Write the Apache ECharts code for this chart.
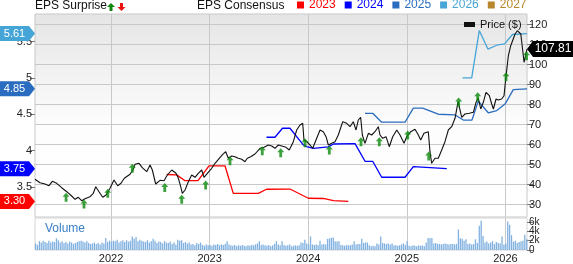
<!DOCTYPE html>
<html><head><meta charset="utf-8">
<script src="https://cdn.jsdelivr.net/npm/echarts@6/dist/echarts.min.js"></script>
<style>html,body{margin:0;padding:0;background:#fff}#c{width:573px;height:264px}</style>
</head><body><div id="c"></div>
<script>
const FONT = 'Liberation Sans, Arial, sans-serif';
const XMIN = 2021.229, XMAX = 2026.219;
const yearTicks = [2022, 2023, 2024, 2025, 2026];
const epsTicks = [3.5, 4, 4.5, 5, 5.5];
const priceTicks = [30, 40, 50, 60, 70, 80, 90, 100, 110, 120];
const volTicksA = [0, 4];
const volTicksB = [2, 6];
const consensusYears = ['2023', '2024', '2025', '2026', '2027'];
const consensusColors = ['#ff0000', '#0000ff', '#2a6cc0', '#45a5d6', '#b8862b'];

const price = [
[2021.229,42.7],[2021.280,41.0],[2021.331,40.35],[2021.371,39.5],[2021.405,41.7],[2021.449,40.7],
[2021.500,38.5],[2021.551,36.5],[2021.601,34.35],[2021.635,32.7],[2021.668,33.7],[2021.703,32.0],
[2021.736,33.0],[2021.787,34.0],[2021.820,35.7],[2021.845,39.0],[2021.878,36.5],[2021.916,33.7],
[2021.949,34.85],[2021.990,38.2],[2022.030,42.35],[2022.068,39.5],[2022.101,40.7],[2022.135,43.2],
[2022.193,45.2],[2022.226,47.7],[2022.243,50.2],[2022.284,50.7],[2022.317,48.5],[2022.362,46.5],
[2022.396,49.85],[2022.419,47.35],[2022.453,40.35],[2022.497,42.2],[2022.538,42.0],[2022.571,44.85],
[2022.616,47.35],[2022.659,45.7],[2022.683,43.2],[2022.707,39.0],[2022.723,35.7],[2022.751,37.35],
[2022.784,41.5],[2022.818,44.85],[2022.852,43.7],[2022.885,45.7],[2022.920,47.35],[2022.943,43.7],
[2022.977,45.7],[2023.021,48.2],[2023.055,50.7],[2023.098,53.2],[2023.133,55.2],[2023.163,56.5],
[2023.190,53.2],[2023.224,54.35],[2023.258,54.0],[2023.291,53.2],[2023.326,52.7],[2023.359,51.5],
[2023.382,53.2],[2023.417,54.0],[2023.460,55.35],[2023.511,58.2],[2023.552,58.7],[2023.595,59.85],
[2023.630,59.35],[2023.663,58.2],[2023.697,59.85],[2023.731,59.35],[2023.775,58.7],[2023.808,57.35],
[2023.849,61.5],[2023.883,67.35],[2023.917,69.85],[2023.944,70.7],[2023.957,62.35],[2023.985,61.5],
[2024.018,59.85],[2024.046,58.2],[2024.079,62.35],[2024.120,67.35],[2024.153,66.5],[2024.181,64.0],
[2024.204,59.85],[2024.238,60.7],[2024.272,61.5],[2024.305,64.85],[2024.350,71.5],[2024.390,70.7],
[2024.424,69.0],[2024.457,71.5],[2024.485,67.35],[2024.508,72.35],[2024.532,73.7],[2024.549,64.85],
[2024.576,60.7],[2024.610,65.7],[2024.644,64.85],[2024.677,66.5],[2024.711,69.0],[2024.728,64.85],
[2024.756,63.2],[2024.789,64.0],[2024.822,59.0],[2024.857,64.0],[2024.898,67.35],[2024.931,64.85],
[2024.972,60.7],[2024.999,64.0],[2025.040,66.5],[2025.083,67.7],[2025.117,64.85],[2025.141,62.35],
[2025.174,65.7],[2025.218,66.5],[2025.235,56.5],[2025.252,50.7],[2025.286,53.2],[2025.319,53.2],
[2025.354,57.35],[2025.387,61.5],[2025.421,67.35],[2025.455,69.0],[2025.489,73.2],[2025.520,81.5],
[2025.535,82.5],[2025.557,73.7],[2025.590,75.35],[2025.634,75.7],[2025.675,76.2],[2025.702,81.2],
[2025.725,83.35],[2025.750,77.85],[2025.776,81.2],[2025.803,86.2],[2025.837,84.5],[2025.861,80.35],
[2025.878,77.85],[2025.905,82.85],[2025.928,82.35],[2025.962,82.85],[2025.986,84.5],[2026.003,92.85],
[2026.030,104.5],[2026.054,109.5],[2026.074,110.35],[2026.098,115.35],[2026.121,117.0],[2026.141,117.35],
[2026.156,115.35],[2026.176,107.0],[2026.189,101.2],[2026.209,102.0],[2026.219,107.81]
];

const eps2023 = [
[2022.565,3.67],[2022.666,3.665],[2022.751,3.585],[2022.882,3.585],[2022.994,3.79],[2023.156,3.79],
[2023.240,3.41],[2023.494,3.41],[2023.577,3.467],[2023.815,3.47],[2024.001,3.343],[2024.153,3.34],
[2024.255,3.31],[2024.407,3.30]
];
const eps2024 = [
[2023.577,4.183],[2023.663,4.183],[2023.739,4.307],[2023.815,4.307],[2023.950,4.077],[2023.985,4.054],
[2024.052,4.03],[2024.204,4.05],[2024.255,4.09],[2024.475,4.095],[2024.576,3.852],[2024.654,3.852],
[2024.745,3.632],[2024.982,3.632],[2025.066,3.778],[2025.405,3.75]
];
const eps2025 = [
[2024.576,4.513],[2024.654,4.513],[2024.745,4.39],[2024.982,4.39],[2025.066,4.583],[2025.161,4.583],
[2025.319,4.50],[2025.489,4.49],[2025.573,4.42],[2025.661,4.42],[2025.725,4.68],[2025.826,4.52],
[2025.912,4.55],[2025.996,4.64],[2026.080,4.838],[2026.219,4.85]
];
const eps2026 = [
[2025.565,5.0],[2025.658,5.0],[2025.735,5.652],[2025.822,5.397],[2025.912,5.45],[2025.991,5.468],
[2026.072,5.598],[2026.219,5.61]
];
const eps2027 = [];

const surprises = [
[2021.544,33.7],[2021.726,30.35],[2021.967,35.7],[2022.216,48.2],[2022.545,38.6],[2022.717,32.7],
[2022.960,39.85],[2023.207,52.0],[2023.534,57.0],[2023.721,56.0],[2023.968,61.0],[2024.214,57.35],
[2024.535,61.5],[2024.721,61.5],[2025.009,64.85],[2025.222,54.35],[2025.526,81.35],[2025.719,84.0],
[2026.006,94.0],[2026.214,104.5]
];

const volStart = 2021.235;
const volume = [
1.4,1.1,1.9,1.6,2.0,1.7,1.5,2.0,1.6,1.8,
1.7,2.5,2.1,1.6,1.9,1.5,1.7,1.4,1.8,1.6,
1.3,1.5,1.7,1.9,2.0,1.8,1.6,1.9,1.5,1.3,
1.4,1.6,1.3,1.5,1.2,1.6,1.4,2.6,1.7,2.0,
1.8,2.0,1.9,2.2,1.6,1.9,2.1,1.7,2.1,1.8,
2.0,2.9,2.4,2.8,1.9,2.2,2.0,1.8,1.7,2.1,
1.6,1.9,2.4,2.0,1.5,1.8,1.7,1.4,1.9,1.6,
1.5,1.8,1.3,1.6,1.2,2.2,2.0,2.1,1.5,1.7,
1.4,1.6,1.2,1.3,1.0,1.5,1.3,1.6,1.1,0.9,
1.2,1.0,1.1,0.9,1.2,1.1,1.3,1.0,1.2,1.1,
1.3,1.9,1.2,1.0,0.9,1.1,0.8,1.0,0.9,1.1,
0.9,0.8,1.0,0.9,1.1,1.0,1.2,1.4,1.9,1.1,
1.2,1.0,0.9,1.1,0.8,1.0,1.3,1.9,1.2,1.0,
1.9,1.1,0.9,1.0,1.2,0.8,0.9,1.0,0.9,1.0,
1.6,1.5,2.2,1.4,1.2,2.9,1.2,1.1,1.2,1.0,
2.0,1.2,1.3,1.2,2.4,2.5,2.6,2.7,1.9,1.8,
1.9,1.1,1.0,0.9,1.1,1.0,1.0,1.2,1.9,1.2,
1.3,1.3,2.4,1.5,1.6,1.6,1.0,0.8,0.9,0.8,
1.4,1.2,2.9,1.5,1.4,1.3,1.4,1.2,1.4,1.0,
1.0,0.9,1.0,1.2,1.4,1.1,1.9,0.9,0.8,1.0,
0.9,0.8,1.0,0.9,1.0,0.8,1.6,2.6,2.5,2.6,
1.4,1.5,1.3,1.3,1.2,1.3,1.4,1.3,1.2,1.3,
1.3,1.2,1.3,4.4,2.5,2.4,2.0,2.3,1.3,1.4,
1.2,1.3,2.3,1.5,5.2,6.3,3.0,1.6,1.8,1.4,
1.6,1.9,1.3,1.7,1.5,1.4,2.9,1.2,1.4,6.1,
5.4,3.2,1.8,2.0,1.5,1.7,1.9,2.0,3.3,2.3
];

const volData = volume.map((v, i) => [volStart + i / 52, v]);
const epsSets = [eps2023, eps2024, eps2025, eps2026, eps2027];

const leftBadge = 'path://M0,0 L29,0 L35,7.5 L29,15 L0,15 Z';
const rightBadge = 'path://M0,8 L6,0 L46,0 L46,16 L6,16 Z';
const arrowUp = 'path://M4,0 L8,4.5 L5.6,4.5 L5.6,10 L2.4,10 L2.4,4.5 L0,4.5 Z';

const epsSeries = consensusYears.map((name, k) => {
  const d = epsSets[k];
  const s = {
    name, type: 'line', xAxisIndex: 0, yAxisIndex: 0, data: d, showSymbol: false,
    color: consensusColors[k], lineStyle: { color: consensusColors[k], width: 1.3 },
    clip: false, z: 3
  };
  if (d.length) {
    const last = d[d.length - 1][1];
    s.markPoint = {
      symbol: leftBadge, symbolSize: [35, 15], symbolOffset: ['-50%', 0], silent: true,
      itemStyle: { color: consensusColors[k] },
      label: { show: true, formatter: () => last.toFixed(2), color: '#fff', fontSize: 11, fontFamily: FONT, offset: [-3, 0] },
      data: [{ coord: [XMIN, last] }], z: 10
    };
  }
  return s;
});

const gradBg = { type: 'linear', x: 0, y: 0, x2: 0, y2: 1,
  colorStops: [{ offset: 0, color: '#e5e5e5' }, { offset: 0.55, color: '#fdfdfd' }, { offset: 1, color: '#ffffff' }] };

const volAxis = (ticks) => ({
  gridIndex: 1, type: 'value', position: 'right', offset: 0, min: 0, max: 6.87, axisLine: { show: false },
  axisTick: { show: true, length: 6, customValues: ticks, lineStyle: { color: '#777' } },
  axisLabel: { customValues: ticks, formatter: v => v === 0 ? '0' : v + 'k', fontSize: 10, color: '#222', margin: 2,
    fontFamily: FONT, showMinLabel: true, showMaxLabel: true },
  splitLine: { show: false }
});

const chart = echarts.init(document.getElementById('c'), null, { renderer: 'canvas' });
chart.setOption({
  animation: false,
  textStyle: { fontFamily: FONT },
  grid: [
    { left: 35, right: 46, top: 14, height: 203, show: true, borderColor: '#c8c8c8', borderWidth: 1, backgroundColor: gradBg },
    { left: 35, right: 46, top: 218, height: 35.5, show: true, borderColor: '#d4d4d4', borderWidth: 1, backgroundColor: '#ffffff' }
  ],
  xAxis: [
    { gridIndex: 0, type: 'value', min: XMIN, max: XMAX, axisLine: { show: false },
      axisTick: { show: false, customValues: yearTicks }, axisLabel: { show: false, customValues: yearTicks },
      splitLine: { show: true, lineStyle: { color: '#c8c8c8', width: 1 } } },
    { gridIndex: 1, type: 'value', min: XMIN, max: XMAX, axisLine: { show: false },
      axisTick: { show: false, customValues: yearTicks },
      axisLabel: { show: true, customValues: yearTicks, formatter: v => String(v), fontSize: 11, color: '#222', margin: 3, fontFamily: FONT },
      splitLine: { show: true, lineStyle: { color: '#c8c8c8', width: 1 } } }
  ],
  yAxis: [
    { gridIndex: 0, type: 'value', position: 'left', min: 3.085, max: 5.88, axisLine: { show: false },
      axisTick: { show: true, length: 5, customValues: epsTicks, lineStyle: { color: '#777' } },
      axisLabel: { customValues: epsTicks, formatter: v => String(v), fontSize: 11, color: '#222', margin: 3, fontFamily: FONT },
      splitLine: { show: false } },
    { gridIndex: 0, type: 'value', position: 'right', min: 23.85, max: 125.35, axisLine: { show: false },
      axisTick: { show: true, length: 6, customValues: priceTicks, lineStyle: { color: '#777' } },
      axisLabel: { customValues: priceTicks, fontSize: 11, color: '#222', margin: 2, fontFamily: FONT },
      splitLine: { show: true, lineStyle: { color: '#c8c8c8', width: 1 } } },
    volAxis(volTicksA),
    volAxis(volTicksB)
  ],
  legend: [
    { data: consensusYears.map((n, k) => ({ name: n, textStyle: { color: consensusColors[k] } })),
      left: 297, top: -1, padding: 0, itemWidth: 7, itemHeight: 7, itemGap: 9, icon: 'rect', selectedMode: false,
      textStyle: { fontSize: 12, fontFamily: FONT } },
    { data: ['Price ($)'], left: 464, top: 19, padding: 0, itemWidth: 11, itemHeight: 5, icon: 'rect', selectedMode: false,
      textStyle: { fontSize: 11, color: '#111', fontFamily: FONT } }
  ],
  graphic: [
    { type: 'text', left: 35, top: 0, style: { text: 'EPS Surprise', fontSize: 12, fontFamily: FONT, fill: '#111' } },
    { type: 'polygon', shape: { points: [[111, 3], [115, 7], [112.5, 7], [112.5, 11], [109.5, 11], [109.5, 7], [107, 7]] }, style: { fill: '#0d8a0d' } },
    { type: 'polygon', shape: { points: [[121.5, 11], [125.5, 7], [123, 7], [123, 3], [120, 3], [120, 7], [117.5, 7]] }, style: { fill: '#ee1111' } },
    { type: 'text', left: 197, top: 0, style: { text: 'EPS Consensus', fontSize: 12, fontFamily: FONT, fill: '#111' } },
    { type: 'text', left: 45, top: 223, style: { text: 'Volume', fontSize: 12, fontFamily: FONT, fill: '#3a80c6' }, z: 10 }
  ],
  series: [
    { name: 'Volume', type: 'bar', xAxisIndex: 1, yAxisIndex: 2, data: volData, barWidth: 1.3,
      itemStyle: { color: '#80b1e0' }, z: 2 },
    ...epsSeries,
    { name: 'Price ($)', type: 'line', xAxisIndex: 0, yAxisIndex: 1, data: price, showSymbol: false,
      color: '#111', lineStyle: { color: '#111', width: 1.1 }, z: 4, clip: false,
      markPoint: { symbol: rightBadge, symbolSize: [46, 16], symbolOffset: ['50%', 0], silent: true,
        itemStyle: { color: '#000' },
        label: { show: true, formatter: () => price[price.length - 1][1].toFixed(2), color: '#fff', fontSize: 12, fontFamily: FONT, offset: [3, 0] },
        data: [{ coord: [XMAX, price[price.length - 1][1]] }], z: 10 } },
    { name: 'EPS Surprise', type: 'scatter', xAxisIndex: 0, yAxisIndex: 1, data: surprises,
      symbol: arrowUp, symbolSize: [7, 9], itemStyle: { color: '#0d8a0d' }, z: 6, silent: true }
  ]
});
</script></body></html>
